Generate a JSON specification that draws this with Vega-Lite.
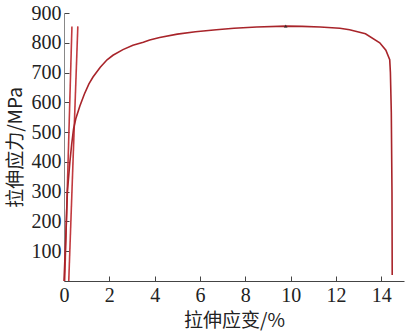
{
  "$schema": "https://vega.github.io/schema/vega-lite/v6.json",
  "autosize": "none",
  "width": 340,
  "height": 268,
  "padding": {"left": 64, "top": 13, "right": 6, "bottom": 52},
  "background": "white",
  "config": {"view": {"stroke": null}},
  "datasets": {
    "lines": [
      {"s": "A", "i": 0, "x": 0.03, "y": 0},
      {"s": "A", "i": 1, "x": 0.35, "y": 855},
      {"s": "B", "i": 0, "x": 0.21, "y": 0},
      {"s": "B", "i": 1, "x": 0.61, "y": 855},
      {"s": "C", "i": 0, "x": 0, "y": 0},
      {"s": "C", "i": 1, "x": 0.08, "y": 150},
      {"s": "C", "i": 2, "x": 0.15, "y": 300},
      {"s": "C", "i": 3, "x": 0.26, "y": 400},
      {"s": "C", "i": 4, "x": 0.34, "y": 460},
      {"s": "C", "i": 5, "x": 0.42, "y": 510},
      {"s": "C", "i": 6, "x": 0.52, "y": 545},
      {"s": "C", "i": 7, "x": 0.7, "y": 588},
      {"s": "C", "i": 8, "x": 0.9, "y": 628},
      {"s": "C", "i": 9, "x": 1.1, "y": 662},
      {"s": "C", "i": 10, "x": 1.28, "y": 685},
      {"s": "C", "i": 11, "x": 1.6, "y": 718},
      {"s": "C", "i": 12, "x": 1.9, "y": 743},
      {"s": "C", "i": 13, "x": 2.16, "y": 758},
      {"s": "C", "i": 14, "x": 2.6, "y": 777},
      {"s": "C", "i": 15, "x": 3.04, "y": 792},
      {"s": "C", "i": 16, "x": 3.5, "y": 802},
      {"s": "C", "i": 17, "x": 3.78, "y": 809},
      {"s": "C", "i": 18, "x": 4.22, "y": 818},
      {"s": "C", "i": 19, "x": 5.0, "y": 829},
      {"s": "C", "i": 20, "x": 5.8, "y": 837},
      {"s": "C", "i": 21, "x": 6.72, "y": 844},
      {"s": "C", "i": 22, "x": 7.5, "y": 849},
      {"s": "C", "i": 23, "x": 8.5, "y": 853},
      {"s": "C", "i": 24, "x": 9.78, "y": 856},
      {"s": "C", "i": 25, "x": 10.5, "y": 855},
      {"s": "C", "i": 26, "x": 11.3, "y": 853},
      {"s": "C", "i": 27, "x": 12.17, "y": 849},
      {"s": "C", "i": 28, "x": 12.6, "y": 844},
      {"s": "C", "i": 29, "x": 13.3, "y": 830},
      {"s": "C", "i": 30, "x": 13.93, "y": 800},
      {"s": "C", "i": 31, "x": 14.2, "y": 775},
      {"s": "C", "i": 32, "x": 14.37, "y": 743},
      {"s": "C", "i": 33, "x": 14.4, "y": 700},
      {"s": "C", "i": 34, "x": 14.44, "y": 565},
      {"s": "C", "i": 35, "x": 14.47, "y": 300},
      {"s": "C", "i": 36, "x": 14.48, "y": 20}
    ],
    "peak": [{"x": 9.78, "y": 856}]
  },
  "encoding": {
    "x": {
      "field": "x", "type": "quantitative",
      "scale": {"domain": [0, 15], "nice": false},
      "axis": {
        "values": [0, 2, 4, 6, 8, 10, 12, 14],
        "title": "拉伸应变/%",
        "titleFont": "Noto Sans CJK SC", "titleFontWeight": "normal", "titleFontSize": 19, "titleColor": "#222",
        "titleY": 49, "titleBaseline": "bottom",
        "labelFont": "Liberation Serif", "labelFontSize": 20, "labelColor": "#222", "labelPadding": 9,
        "labelOverlap": false, "labelBound": false, "labelFlush": false,
        "tickSize": -5, "tickColor": "#444", "domainColor": "#444", "grid": false
      }
    },
    "y": {
      "field": "y", "type": "quantitative",
      "scale": {"domain": [0, 900], "nice": false},
      "axis": {
        "values": [100, 200, 300, 400, 500, 600, 700, 800, 900],
        "title": "拉伸应力/MPa",
        "titleFont": "Noto Sans CJK SC", "titleFontWeight": "normal", "titleFontSize": 19, "titleColor": "#222",
        "titleX": -49, "titleBaseline": "middle",
        "labelFont": "Liberation Serif", "labelFontSize": 20, "labelColor": "#222", "labelPadding": 8,
        "labelOverlap": false, "labelBound": false, "labelFlush": false,
        "tickSize": -5, "tickColor": "#444", "domainColor": "#888", "grid": false
      }
    }
  },
  "layer": [
    {
      "data": {"name": "lines"},
      "mark": {"type": "line", "strokeWidth": 1.6},
      "encoding": {
        "order": {"field": "i", "type": "quantitative"},
        "detail": {"field": "s"},
        "color": {
          "field": "s", "type": "nominal",
          "scale": {"domain": ["A", "B", "C"], "range": ["#c23a3f", "#c23a3f", "#a8242a"]},
          "legend": null
        }
      }
    },
    {
      "data": {"name": "peak"},
      "mark": {"type": "point", "shape": "triangle-up", "filled": true, "color": "#222", "size": 14},
      "encoding": {}
    }
  ]
}
